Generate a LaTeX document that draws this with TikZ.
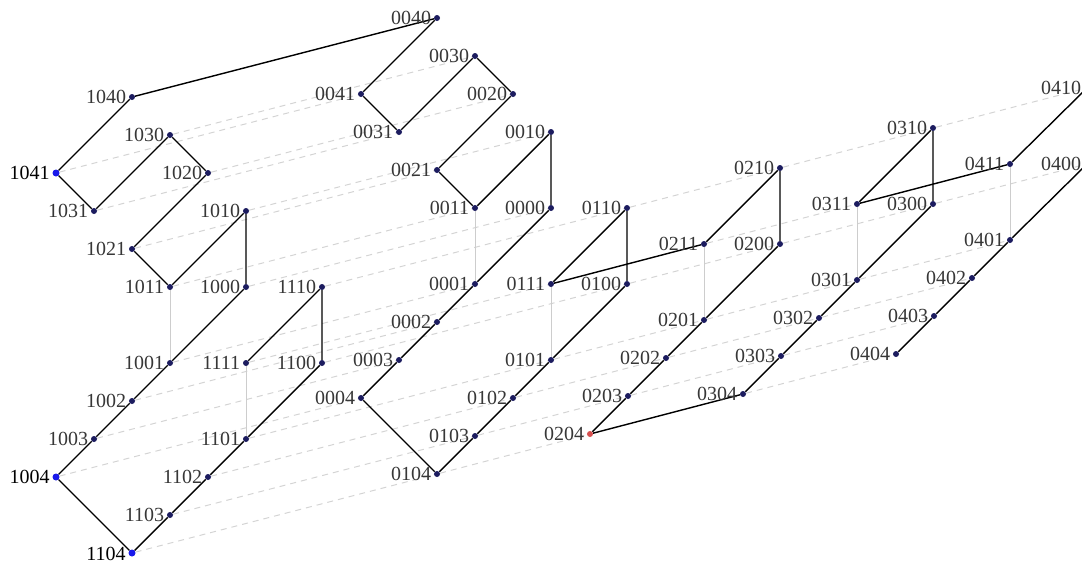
\documentclass[tikz,border=0pt]{standalone}
\usepackage{fontspec}
\setmainfont{Liberation Serif}
\usetikzlibrary{backgrounds}
\definecolor{dotnavy}{RGB}{28,28,95}
\definecolor{dotblue}{RGB}{25,25,235}
\definecolor{dotred}{RGB}{215,80,80}
\definecolor{labgray}{RGB}{55,55,55}
\definecolor{dashgray}{RGB}{212,212,212}
\definecolor{vgray}{RGB}{205,205,205}
\newcommand\mkv[4][]{\node[vdot,#1,label={[lab]left:#2}] (v#2) at (#3,#4) {};}
\begin{document}
\begin{tikzpicture}[x=1pt,y=-1pt,
  vdot/.style={circle,fill=dotnavy,inner sep=0pt,minimum size=6pt},
  bluedot/.style={fill=dotblue,minimum size=7pt},
  reddot/.style={fill=dotred},
  lab/.style={font=\fontsize{20}{24}\selectfont,text=labgray,inner sep=0.5pt},
  blacklab/.style={text=black},
  label distance=2pt,
  pathline/.style={draw=black,line width=1.4pt},
  dashl/.style={draw=dashgray,line width=1pt,dash pattern=on 6pt off 5pt},
  vline/.style={draw=vgray,line width=0.6pt}]
\useasboundingbox (0,0) rectangle (1082,563);
% group 10
\mkv{1000}{246}{287}
\mkv{1010}{246}{211}
\mkv{1020}{208}{173}
\mkv{1030}{170}{135}
\mkv{1040}{132}{97}
\mkv{1001}{170}{363}
\mkv{1011}{170}{287}
\mkv{1021}{132}{249}
\mkv{1031}{94}{211}
\node[vdot,bluedot,label={[lab,blacklab]left:1041}] (v1041) at (56,173) {};
\mkv{1002}{132}{401}
\mkv{1003}{94}{439}
\node[vdot,bluedot,label={[lab,blacklab]left:1004}] (v1004) at (56,477) {};
% group 00
\mkv{0000}{551}{208}
\mkv{0010}{551}{132}
\mkv{0020}{513}{94}
\mkv{0030}{475}{56}
\mkv{0040}{437}{18}
\mkv{0001}{475}{284}
\mkv{0011}{475}{208}
\mkv{0021}{437}{170}
\mkv{0031}{399}{132}
\mkv{0041}{361}{94}
\mkv{0002}{437}{322}
\mkv{0003}{399}{360}
\mkv{0004}{361}{398}
% group 11
\mkv{1100}{322}{363}
\mkv{1110}{322}{287}
\mkv{1101}{246}{439}
\mkv{1111}{246}{363}
\mkv{1102}{208}{477}
\mkv{1103}{170}{515}
\node[vdot,bluedot,label={[lab,blacklab,yshift=-0.5pt]left:1104}] (v1104) at (132,553) {};
% group 01
\mkv{0100}{627}{284}
\mkv{0110}{627}{208}
\mkv{0101}{551}{360}
\mkv{0111}{551}{284}
\mkv{0102}{513}{398}
\mkv{0103}{475}{436}
\mkv{0104}{437}{474}
% group 02
\mkv{0200}{780}{244}
\mkv{0210}{780}{168}
\mkv{0201}{704}{320}
\mkv{0211}{704}{244}
\mkv{0202}{666}{358}
\mkv{0203}{628}{396}
\mkv[reddot]{0204}{590}{434}
% group 03
\mkv{0300}{933}{204}
\mkv{0310}{933}{128}
\mkv{0301}{857}{280}
\mkv{0311}{857}{204}
\mkv{0302}{819}{318}
\mkv{0303}{781}{356}
\mkv{0304}{743}{394}
% group 04
\mkv{0400}{1087}{164}
\mkv{0410}{1087}{88}
\mkv{0401}{1010}{240}
\mkv{0411}{1010}{164}
\mkv{0402}{972}{278}
\mkv{0403}{934}{316}
\mkv{0404}{896}{354}
\begin{pgfonlayer}{background}
\foreach \k in {00,10,20,30,40,01,11,21,31,41,02,03,04}
  \draw[dashl] (v10\k) -- (v00\k);
\foreach \k in {10,11,00,01,02,03,04}
  \draw[dashl] (v11\k) -- (v01\k) -- (v02\k) -- (v03\k) -- (v04\k);
\foreach \g in {10,00,11,01,02,03,04}
  \draw[vline] (v\g11) -- (v\g01);
\draw[pathline] (v1111) -- (v1110) -- (v1100) -- (v1101) -- (v1102) -- (v1103) -- (v1104)
  -- (v1004) -- (v1003) -- (v1002) -- (v1001) -- (v1000) -- (v1010) -- (v1011) -- (v1021)
  -- (v1020) -- (v1030) -- (v1031) -- (v1041) -- (v1040) -- (v0040) -- (v0041) -- (v0031)
  -- (v0030) -- (v0020) -- (v0021) -- (v0011) -- (v0010) -- (v0000) -- (v0001) -- (v0002)
  -- (v0003) -- (v0004) -- (v0104) -- (v0103) -- (v0102) -- (v0101) -- (v0100) -- (v0110)
  -- (v0111) -- (v0211) -- (v0210) -- (v0200) -- (v0201) -- (v0202) -- (v0203) -- (v0204)
  -- (v0304) -- (v0303) -- (v0302) -- (v0301) -- (v0300) -- (v0310) -- (v0311) -- (v0411)
  -- (v0410);
\draw[pathline] (v0400) -- (v0401) -- (v0402) -- (v0403) -- (v0404);
\end{pgfonlayer}
\end{tikzpicture}
\end{document}
